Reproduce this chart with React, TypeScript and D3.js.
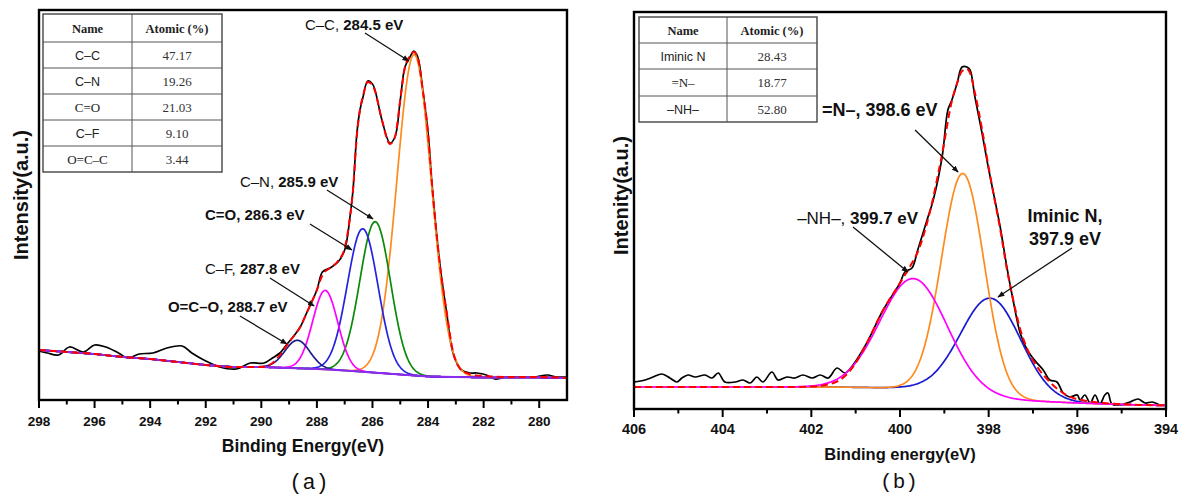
import React from 'react';
import * as d3 from 'd3';

// ---------------- Panel (a): C 1s ----------------
const bgA_BE = [298, 297, 296, 295, 294, 293, 292, 291, 290, 289, 288, 287, 286, 285, 284, 283, 282, 281, 280, 279];
const bgA_I = [50, 48, 46, 43, 41, 38, 35, 33, 33, 32, 31, 29.5, 27.5, 25.5, 23.5, 23, 22.5, 22.5, 22.5, 22];

const rawA_BE = [298, 297.7, 297.3, 296.9, 296.4, 296.0, 295.6, 295.2, 294.8, 294.4, 293.9, 293.4, 292.85, 292.5, 292.0, 291.5, 290.9, 290.4, 289.9, 289.6, 289.33, 289.1, 288.86, 288.6, 288.37, 288.0, 287.8, 287.53, 287.24, 287.0, 286.8, 286.7, 286.56, 286.45, 286.34, 286.17, 286.0, 285.91, 285.66, 285.37, 285.19, 285.0, 284.83, 284.65, 284.51, 284.37, 284.19, 284.0, 283.87, 283.58, 283.33, 283.1, 282.8, 282.5, 282.25, 281.9, 281.6, 281.2, 280.7, 280.2, 279.7, 279.4, 279.0];
const rawA_I = [49, 47, 45, 53, 48, 55, 53, 48, 42, 46, 47, 52, 54, 47, 39, 33, 31, 37, 37, 42, 47, 55, 63, 73, 87, 110, 128, 132, 138, 150, 185, 210, 267, 290, 303, 319, 316, 310, 280, 257, 263, 300, 333, 343, 349, 343, 310, 267, 220, 137, 87, 47, 30, 27, 27, 25, 21, 23, 23, 23, 25, 23, 23];

const envA_BE = [298, 297, 296, 295, 294, 293, 292, 291, 290, 289.6, 289.33, 289.1, 288.86, 288.6, 288.37, 288.0, 287.8, 287.53, 287.24, 287.0, 286.8, 286.7, 286.56, 286.45, 286.34, 286.17, 286.0, 285.91, 285.66, 285.37, 285.19, 285.0, 284.83, 284.65, 284.51, 284.37, 284.19, 284.0, 283.87, 283.58, 283.33, 283.1, 282.8, 282.5, 282, 281, 280, 279];
const envA_I = [50, 48, 46, 43, 41, 38, 35, 33, 33, 37, 45, 54, 63, 73, 87, 110, 125, 132, 139, 152, 185, 210, 265, 290, 304, 318, 315, 309, 280, 256, 263, 300, 333, 344, 348, 342, 310, 267, 220, 137, 88, 48, 30, 26, 24, 23, 23, 22];

const peakNamesA = ['C–C', 'C–N', 'C=O', 'C–F', 'O=C–O'];
const peakCentersA = [284.5, 285.9, 286.35, 287.7, 288.7];
const peakHeightsA = [321, 151, 143, 79, 28];
const peakFwhmA = [1.46, 1.3, 1.3, 1.06, 1.06];
const peakColorsA = ['#ff8a1c', '#0a8a0a', '#2424e0', '#ff00ff', '#1c1c8c'];

const tableNamesA = ['C–C', 'C–N', 'C=O', 'C–F', 'O=C–C'];
const tableValuesA = ['47.17', '19.26', '21.03', '9.10', '3.44'];
const tableNameSerifA = [false, false, true, false, true];

const ticksA = [298, 296, 294, 292, 290, 288, 286, 284, 282, 280];
const minorTicksA = [297, 295, 293, 291, 289, 287, 285, 283, 281];

// annotations (label at [BE, I]; arrow tail / tip in data units)
const annNameA = ['C–C, ', 'C–N, ', 'C=O, ', 'C–F, ', 'O=C–O, '];
const annEnergyA = ['284.5 eV', '285.9 eV', '286.3 eV', '287.8 eV', '288.7 eV'];
const annNameBoldA = [false, false, true, false, true];
const annLabelA = [[288.43, 370], [290.77, 213], [292.03, 180], [292.03, 126], [293.36, 88]];
const annTailA = [[286.27, 367], [287.64, 210], [288.25, 176], [289.69, 122], [290.77, 84]];
const annTipA = [[284.69, 339], [285.98, 181], [286.74, 150], [288.1, 94], [289.08, 56]];

// ---------------- Panel (b): N 1s ----------------
const bgB_BE = [406, 402, 401, 400, 399.5, 399, 398.5, 398, 397.5, 397, 396.5, 396, 395, 394];
const bgB_I = [22, 22, 21.7, 21, 20, 18, 15, 12, 9.5, 8, 7, 6, 4.5, 3.5];

const rawB_BE = [406, 405.75, 405.57, 405.37, 405.19, 405.03, 404.92, 404.78, 404.62, 404.4, 404.24, 404.1, 403.95, 403.72, 403.54, 403.38, 403.23, 403.09, 402.89, 402.75, 402.55, 402.37, 402.19, 401.98, 401.8, 401.62, 401.42, 401.24, 401.06, 400.75, 400.38, 400.0, 399.89, 399.73, 399.6, 399.39, 399.25, 399.05, 398.92, 398.83, 398.71, 398.6, 398.49, 398.42, 398.31, 398.15, 398.01, 397.86, 397.74, 397.59, 397.45, 397.29, 397.13, 397.02, 396.91, 396.77, 396.62, 396.46, 396.32, 396.17, 396.0, 395.94, 395.83, 395.71, 395.6, 395.49, 395.38, 395.31, 395.22, 395.04, 394.81, 394.63, 394.47, 394.31, 394.13, 394.0];
const rawB_I = [27, 29, 32, 35, 31, 27, 31, 34, 32, 34, 31, 36, 27, 27, 29, 26, 32, 27, 37, 29, 32, 31, 34, 31, 34, 31, 41, 36, 44, 66, 99, 126, 137, 141, 159, 189, 209, 252, 299, 309, 326, 342, 342, 339, 312, 276, 242, 209, 182, 142, 109, 76, 59, 52, 46, 39, 29, 27, 16, 12, 14, 9, 14, 6, 14, 5, 14, 16, 5, 4, 7, 10, 6, 7, 4, 4];

const envB_BE = [406, 404, 402.5, 402, 401.5, 401.06, 400.75, 400.38, 400.0, 399.73, 399.6, 399.39, 399.05, 398.83, 398.71, 398.6, 398.49, 398.42, 398.31, 398.15, 398.01, 397.86, 397.74, 397.59, 397.45, 397.29, 397.13, 396.9, 396.6, 396.2, 395.8, 395.4, 395, 394.5, 394];
const envB_I = [22, 22, 22, 22.5, 26, 42, 66, 99, 126, 146, 157, 186, 255, 308, 326, 338, 340, 336, 316, 280, 244, 208, 180, 140, 110, 80, 60, 42, 26, 13, 8, 6, 4.8, 4, 3.6];

const peakNamesB = ['Iminic N', '=N–', '–NH–'];
const peakCentersB = [397.95, 398.58, 399.7];
const peakHeightsB = [99, 220, 110];
const peakFwhmB = [1.6, 1.13, 1.77];
const peakColorsB = ['#1a1ad0', '#ff8a1c', '#ff00ff'];

const tableNamesB = ['Iminic N', '=N–', '–NH–'];
const tableValuesB = ['28.43', '18.77', '52.80'];
const tableNameSerifB = [false, true, false];

const ticksB = [406, 404, 402, 400, 398, 396, 394];
const minorTicksB = [405, 403, 401, 399, 397, 395];

const W = 1186;
const H = 498;
const SANS = '"Liberation Sans", Arial, Helvetica, sans-serif';
const SERIF = '"Liberation Serif", "Times New Roman", serif';
const MONO = '"Liberation Mono", "Courier New", monospace';

const xA = d3.scaleLinear().domain([298, 279]).range([39, 567]);
const yA = d3.scaleLinear().domain([0, 390]).range([400, 10]);
const xB = d3.scaleLinear().domain([406, 394]).range([634, 1166]);
const yB = d3.scaleLinear().domain([0, 397]).range([409, 12]);

const bgA = d3.scaleLinear().domain(bgA_BE).range(bgA_I).clamp(true);
const bgB = d3.scaleLinear().domain(bgB_BE).range(bgB_I).clamp(true);

function gauss(x: number, c: number, h: number, fwhm: number) {
  const s = fwhm / 2.3548;
  return h * Math.exp(-((x - c) * (x - c)) / (2 * s * s));
}

function componentPath(
  x: d3.ScaleLinear<number, number>,
  y: d3.ScaleLinear<number, number>,
  bg: (v: number) => number,
  c: number,
  h: number,
  fwhm: number
) {
  const [d0, d1] = x.domain();
  const grid = d3.range(d0, d1 - 0.001, -0.02).concat([d1]);
  const line = d3
    .line<number>()
    .x((be) => x(be))
    .y((be) => y(bg(be) + gauss(be, c, h, fwhm)));
  return line(grid) || '';
}

function seriesPath(
  x: d3.ScaleLinear<number, number>,
  y: d3.ScaleLinear<number, number>,
  be: number[],
  val: number[],
  curve: d3.CurveFactory
) {
  const pts = be.map((b, i) => [b, val[i]] as [number, number]);
  return (
    d3
      .line<[number, number]>()
      .x((d) => x(d[0]))
      .y((d) => y(d[1]))
      .curve(curve)(pts) || ''
  );
}

function Axis({ x, y, ticks, minor, labelDy, fs }: any) {
  const [x0, x1] = x.range();
  const [yb, yt] = y.range();
  return (
    <g>
      {ticks.map((t: number) => (
        <g key={'t' + t}>
          <line x1={x(t)} x2={x(t)} y1={yb} y2={yb + 8} stroke="#000" strokeWidth={2} />
          <text
            x={x(t)}
            y={yb + labelDy}
            textAnchor="middle"
            fontFamily={SANS}
            fontWeight="bold"
            fontSize={fs}
            fill="#111"
          >
            {t}
          </text>
        </g>
      ))}
      {minor.map((t: number) => (
        <line key={'m' + t} x1={x(t)} x2={x(t)} y1={yb} y2={yb + 4.5} stroke="#000" strokeWidth={2} />
      ))}
      <rect x={x0} y={yt} width={x1 - x0} height={yb - yt} fill="none" stroke="#000" strokeWidth={2.4} />
    </g>
  );
}

function Table({ x0, xm, x1, rows, names, values, serif }: any) {
  return (
    <g>
      <rect x={x0} y={rows[0]} width={x1 - x0} height={rows[rows.length - 1] - rows[0]} fill="#fff" stroke="#444" strokeWidth={1.4} />
      {rows.slice(1, -1).map((r: number, i: number) => (
        <line key={i} x1={x0} x2={x1} y1={r} y2={r} stroke="#555" strokeWidth={1} />
      ))}
      <line x1={xm} x2={xm} y1={rows[0]} y2={rows[rows.length - 1]} stroke="#555" strokeWidth={1} />
      <text x={(x0 + xm) / 2} y={(rows[0] + rows[1]) / 2 + 4.5} textAnchor="middle" fontFamily={SERIF} fontWeight="bold" fontSize={12.5} fill="#222">
        Name
      </text>
      <text x={(xm + x1) / 2} y={(rows[0] + rows[1]) / 2 + 4.5} textAnchor="middle" fontFamily={SERIF} fontWeight="bold" fontSize={12.5} fill="#222">
        Atomic (%)
      </text>
      {names.map((n: string, i: number) => {
        const cy = (rows[i + 1] + rows[i + 2]) / 2 + 4.5;
        return (
          <g key={'r' + i}>
            <text x={(x0 + xm) / 2} y={cy} textAnchor="middle" fontFamily={serif[i] ? SERIF : SANS} fontSize={serif[i] ? 13 : 12.5} fill="#222">
              {n}
            </text>
            <text x={(xm + x1) / 2} y={cy} textAnchor="middle" fontFamily={SERIF} fontSize={13} fill="#333">
              {values[i]}
            </text>
          </g>
        );
      })}
    </g>
  );
}

function Arrow({ x1, y1, x2, y2 }: any) {
  return <line x1={x1} y1={y1} x2={x2} y2={y2} stroke="#111" strokeWidth={1.3} markerEnd="url(#arrowHead)" />;
}

export default function App() {
  const curveRaw = d3.curveCatmullRom.alpha(0.5);
  const curveEnv = d3.curveMonotoneX;

  // background path for (a) including the vertical drops at both ends
  const bgPtsBE = [298].concat(bgA_BE, [279]);
  const bgPtsI = [0].concat(bgA_I, [0]);

  return (
    <svg
      width={W}
      height={H}
      viewBox={`0 0 ${W} ${H}`}
      style={{ position: 'absolute', left: 0, top: 0, background: '#fff' }}
    >
      <defs>
        <marker id="arrowHead" viewBox="0 0 10 10" refX="9" refY="5" markerWidth="7" markerHeight="7" orient="auto" markerUnits="userSpaceOnUse">
          <path d="M0,1 L10,5 L0,9 z" fill="#111" />
        </marker>
      </defs>
      <rect x={0} y={0} width={W} height={H} fill="#fff" />

      {/* ---------- Panel (a) ---------- */}
      <g>
        <path d={seriesPath(xA, yA, rawA_BE, rawA_I, curveRaw)} fill="none" stroke="#000" strokeWidth={1.7} />
        {peakCentersA.map((c, i) => (
          <path
            key={peakNamesA[i]}
            d={componentPath(xA, yA, bgA, c, peakHeightsA[i], peakFwhmA[i])}
            fill="none"
            stroke={peakColorsA[i]}
            strokeWidth={1.7}
          />
        ))}
        <path d={seriesPath(xA, yA, bgPtsBE, bgPtsI, d3.curveLinear)} fill="none" stroke="#8c2cf0" strokeWidth={1.8} />
        <path d={seriesPath(xA, yA, envA_BE, envA_I, curveEnv)} fill="none" stroke="#ff0000" strokeWidth={2} strokeDasharray="7,4" />

        <Axis x={xA} y={yA} ticks={ticksA} minor={minorTicksA} labelDy={26} fs={13.5} />

        <Table
          x0={43}
          xm={132}
          x1={222}
          rows={[14, 42, 68, 94, 120, 146, 172]}
          names={tableNamesA}
          values={tableValuesA}
          serif={tableNameSerifA}
        />

        {annNameA.map((n, i) => (
          <g key={'annA' + i}>
            <text x={xA(annLabelA[i][0])} y={yA(annLabelA[i][1])} fontFamily={SANS} fontSize={15} fill="#111">
              <tspan fontWeight={annNameBoldA[i] ? 'bold' : 'normal'}>{n}</tspan>
              <tspan fontWeight="bold">{annEnergyA[i]}</tspan>
            </text>
            <Arrow x1={xA(annTailA[i][0])} y1={yA(annTailA[i][1])} x2={xA(annTipA[i][0])} y2={yA(annTipA[i][1])} />
          </g>
        ))}

        <text
          transform={`translate(28, ${(yA.range()[0] + yA.range()[1]) / 2 - 10}) rotate(-90)`}
          textAnchor="middle"
          fontFamily={SANS}
          fontWeight="bold"
          fontSize={20}
          fill="#111"
        >
          Intensity(a.u.)
        </text>
        <text x={(xA.range()[0] + xA.range()[1]) / 2} y={452} textAnchor="middle" fontFamily={SANS} fontWeight="bold" fontSize={17.5} fill="#111">
          Binding Energy(eV)
        </text>
        <text x={309} y={489} textAnchor="middle" fontFamily={MONO} fontSize={22} fill="#111">
          (a)
        </text>
      </g>

      {/* ---------- Panel (b) ---------- */}
      <g>
        <path d={seriesPath(xB, yB, rawB_BE, rawB_I, curveRaw)} fill="none" stroke="#000" strokeWidth={1.7} />
        {peakCentersB.map((c, i) => (
          <path
            key={peakNamesB[i]}
            d={componentPath(xB, yB, bgB, c, peakHeightsB[i], peakFwhmB[i])}
            fill="none"
            stroke={peakColorsB[i]}
            strokeWidth={1.7}
          />
        ))}
        <path d={seriesPath(xB, yB, envB_BE, envB_I, curveEnv)} fill="none" stroke="#ff0000" strokeWidth={2} strokeDasharray="7,4" />

        <Axis x={xB} y={yB} ticks={ticksB} minor={minorTicksB} labelDy={25} fs={14.5} />

        <Table
          x0={639}
          xm={727}
          x1={817}
          rows={[17, 43, 69, 96, 122]}
          names={tableNamesB}
          values={tableValuesB}
          serif={tableNameSerifB}
        />

        {/* =N– */}
        <text x={xB(401.76)} y={yB(293)} fontFamily={SANS} fontWeight="bold" fontSize={18} fill="#111">
          =N–, 398.6 eV
        </text>
        <Arrow x1={xB(399.66)} y1={yB(279)} x2={xB(398.69)} y2={yB(237)} />
        {/* –NH– */}
        <text x={xB(402.32)} y={yB(185)} fontFamily={SANS} fontSize={17} fill="#111">
          <tspan>–NH–, </tspan>
          <tspan fontWeight="bold">399.7 eV</tspan>
        </text>
        <Arrow x1={xB(401.06)} y1={yB(182)} x2={xB(399.82)} y2={yB(137)} />
        {/* Iminic N */}
        <text x={xB(396.28)} y={yB(187)} textAnchor="middle" fontFamily={SANS} fontWeight="bold" fontSize={18} fill="#111">
          Iminic N,
        </text>
        <text x={xB(396.28)} y={yB(164)} textAnchor="middle" fontFamily={SANS} fontWeight="bold" fontSize={18} fill="#111">
          397.9 eV
        </text>
        <Arrow x1={xB(396.12)} y1={yB(161)} x2={xB(397.79)} y2={yB(112)} />

        <text
          transform={`translate(628, ${(yB.range()[0] + yB.range()[1]) / 2 - 15}) rotate(-90)`}
          textAnchor="middle"
          fontFamily={SANS}
          fontWeight="bold"
          fontSize={20}
          fill="#111"
        >
          Intenity(a.u.)
        </text>
        <text x={(xB.range()[0] + xB.range()[1]) / 2} y={460} textAnchor="middle" fontFamily={SANS} fontWeight="bold" fontSize={16.5} fill="#111">
          Binding energy(eV)
        </text>
        <text x={899} y={488} textAnchor="middle" fontFamily={MONO} fontSize={21} fill="#111">
          (b)
        </text>
      </g>
    </svg>
  );
}
